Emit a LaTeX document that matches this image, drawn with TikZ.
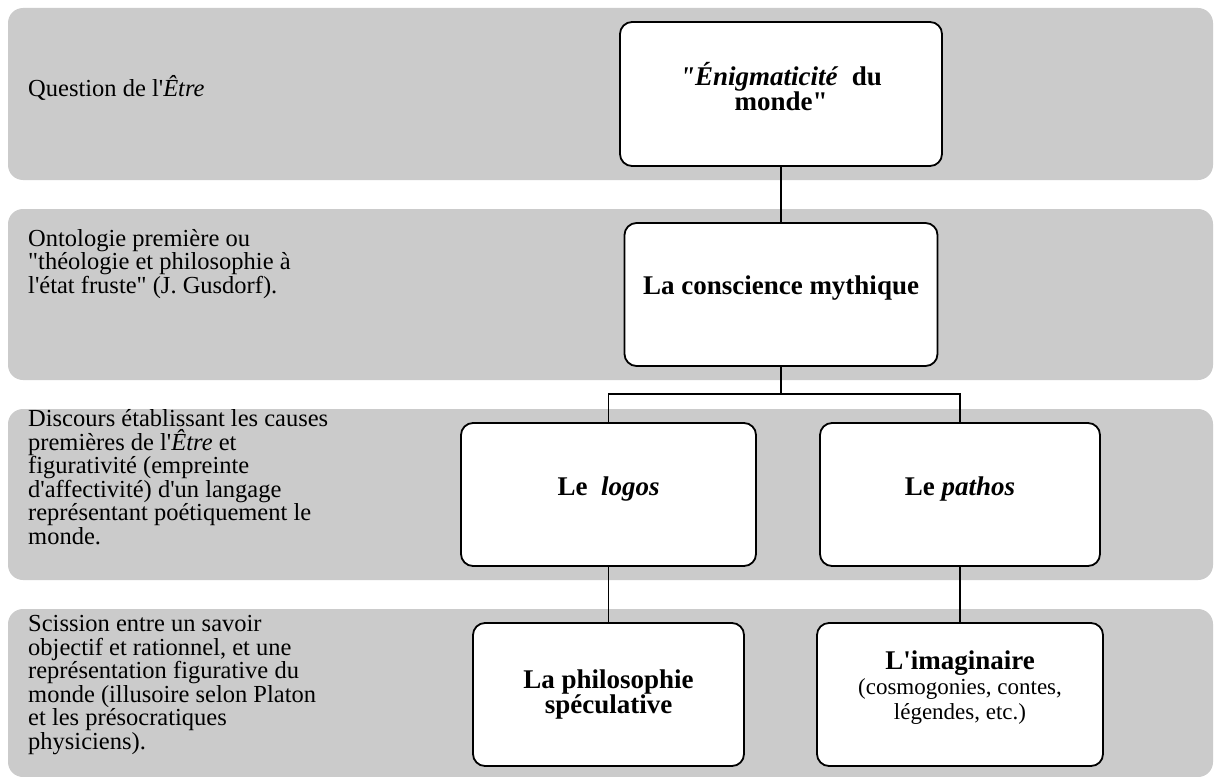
\documentclass[tikz,border=0pt]{standalone}
\usepackage{fontspec}
\setmainfont{Liberation Serif}[Ligatures=TeXOff]
\definecolor{bandgray}{RGB}{203,203,203}
\begin{document}
\begin{tikzpicture}[x=1pt,y=-1pt,
  band/.style={fill=bandgray, rounded corners=15pt},
  box/.style={draw=black, line width=1.8pt, fill=white, rounded corners=12pt, inner sep=0pt, minimum height=143pt},
  lefttext/.style={anchor=west, align=left, inner sep=0pt, font=\fontsize{24.5}{23.5}\selectfont},
  boxlabel/.style={align=center, inner sep=0pt, font=\fontsize{27}{25}\selectfont\bfseries},
  conn/.style={line width=1.8pt}]
\useasboundingbox (0,0) rectangle (1214,776);
% bands
\fill[band] (8,8) rectangle (1213,180);
\fill[band] (8,209) rectangle (1213,380);
\fill[band] (8,409) rectangle (1213,580);
\fill[band] (8,609) rectangle (1213,777);
% boxes
\node[box, minimum width=322pt, minimum height=144pt] (b1) at (781,94) {};
\node[box, minimum width=313pt] (b2) at (781,294.5) {};
\node[box, minimum width=295pt] (b3) at (608.5,494.5) {};
\node[box, minimum width=280pt] (b4) at (960,494.5) {};
\node[box, minimum width=271pt] (b5) at (608.5,694.5) {};
\node[box, minimum width=286pt] (b6) at (960,694.5) {};
% connectors
\coordinate (jn) at (781,394);
\draw[conn] (b1.south) -- (b2.north);
\draw[conn] (b2.south) -- (jn);
\draw[conn] (b3.north) -- (b3.north |- jn) -- (b4.north |- jn) -- (b4.north);
\draw[conn] (b3.south) -- (b5.north);
\draw[conn] (b4.south) -- (b6.north);
% box labels
\node[boxlabel] (l1) at (781,87) {\textit{"Énigmaticité}\ \ du\\monde"};
\node[boxlabel] (l2) at (781,288) {La conscience mythique};
\node[boxlabel] (l3) at (608.5,489) {Le\ \ \textit{logos}};
\node[boxlabel] (l4) at (960,489) {Le \textit{pathos}};
\node[boxlabel] (l5) at (608.5,694) {La philosophie\\spéculative};
\node[boxlabel] (l6) at (960,688) {L'imaginaire\\{\mdseries\fontsize{23}{25}\selectfont (cosmogonies, contes,}\\{\mdseries\fontsize{23}{25}\selectfont légendes, etc.)}};
% left texts
\node[lefttext] (t1) at (28,88) {Question de l'\textit{Être}};
\node[lefttext] (t2) at (28,264) {Ontologie première ou\\"théologie et philosophie à\\l'état fruste" (J. Gusdorf).};
\node[lefttext] (t3) at (28,477) {Discours établissant les causes\\premières de l'\textit{Être} et\\figurativité (empreinte\\d'affectivité) d'un langage\\représentant poétiquement le\\monde.};
\node[lefttext] (t4) at (28,685) {Scission entre un savoir\\objectif et rationnel, et une\\représentation figurative du\\monde (illusoire selon Platon\\et les présocratiques\\physiciens).};
\end{tikzpicture}
\end{document}
